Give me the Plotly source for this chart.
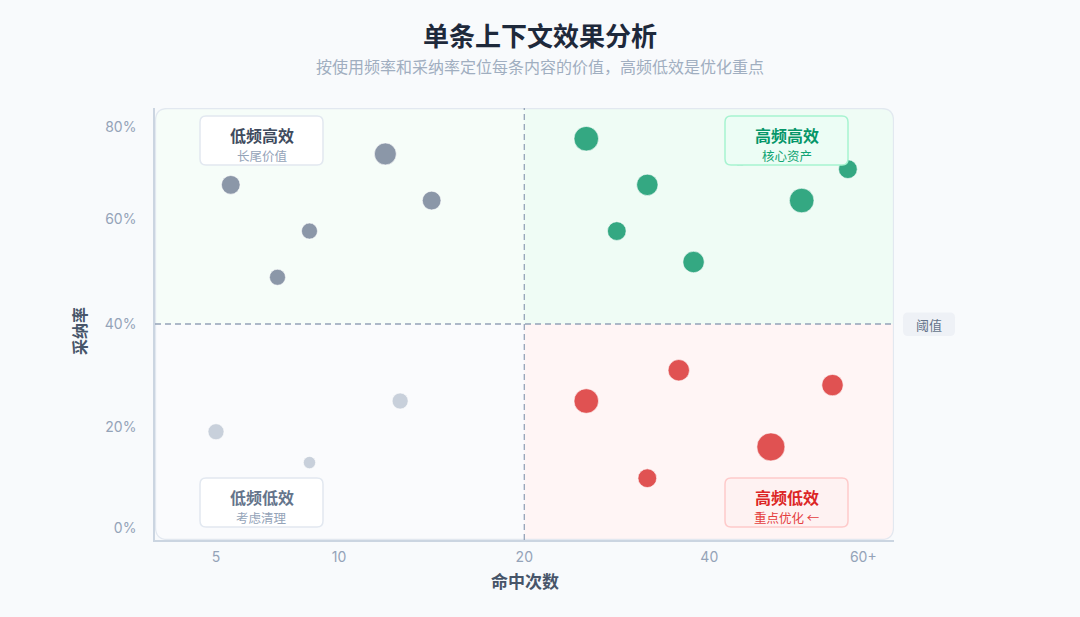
import numpy as np
import plotly.graph_objects as go

# ---------------- data ----------------
hit_ticks = [5, 10, 20, 40, 60]
hit_tick_labels = ["5", "10", "20", "40", "60+"]
rate_ticks = [0, 20, 40, 60, 80]
rate_tick_labels = ["0%", "20%", "40%", "60%", "80%"]

threshold_hits = 20
threshold_rate = 40

# 低频高效 (gray)
hits_gray = [5.6, 12.5, 15.0, 8.8, 7.5]
rate_gray = [67.4, 74.1, 64.0, 57.7, 48.9]
weight_gray = [7, 8.2, 7, 6, 6]

# 高频高效 (green)
hits_green = [26.7, 33.3, 30.0, 38.3, 52.0, 58.0, 44.0]
rate_green = [77.4, 67.4, 57.7, 51.8, 64.0, 70.8, 73.9]
weight_green = [9.2, 8, 7, 8, 9.2, 7, 8]

# 高频低效 (red)
hits_red = [26.7, 36.7, 56.0, 48.0, 33.3]
rate_red = [25.0, 31.0, 28.1, 16.0, 9.8]
weight_red = [9.2, 8, 8, 10.5, 7]

# 低频低效 (light gray)
hits_light = [5.0, 8.8, 13.3]
rate_light = [19.0, 12.9, 25.0]
weight_light = [6, 4.6, 6]

# ---------------- scales (piecewise axis scales) ----------------
PLOT_W, PLOT_H = 739, 432
X_POS = [61, 184, 369.3, 554.3, 708.3]
Y_POS = [12.3, 113.3, 216, 321, 413.3]


def sx(v):
    return np.interp(v, hit_ticks, X_POS)


def sy(v):
    return np.interp(v, rate_ticks, Y_POS)


SIZE_SCALE = 2.67

FONT = "Inter, Noto Sans CJK SC, sans-serif"
CJK = "Noto Sans CJK SC, sans-serif"

fig = go.Figure()

series = [
    (hits_light, rate_light, weight_light, "#c8d0db", "低频低效"),
    (hits_gray, rate_gray, weight_gray, "#8b97a8", "低频高效"),
    (hits_red, rate_red, weight_red, "#e05252", "高频低效"),
    (hits_green, rate_green, weight_green, "#34a882", "高频高效"),
]
for hx, ry, w, col, name in series:
    fig.add_trace(go.Scatter(
        x=sx(hx), y=sy(ry), mode="markers", name=name,
        marker=dict(size=np.array(w) * SIZE_SCALE, color=col, opacity=1,
                    line=dict(width=1, color="rgba(255,255,255,0.6)")),
        hoverinfo="skip", showlegend=False,
    ))


def rrect(x0, y0, x1, y1, rx, ry=None, corners=(1, 1, 1, 1)):
    """corners: bl, br, tr, tl"""
    if ry is None:
        ry = rx
    bl, br, tr, tl = corners
    p = f"M {x0 + rx*bl},{y0} L {x1 - rx*br},{y0} "
    p += f"Q {x1},{y0} {x1},{y0 + ry*br} L {x1},{y1 - ry*tr} "
    p += f"Q {x1},{y1} {x1 - rx*tr},{y1} L {x0 + rx*tl},{y1} "
    p += f"Q {x0},{y1} {x0},{y1 - ry*tl} L {x0},{y0 + ry*bl} "
    p += f"Q {x0},{y0} {x0 + rx*bl},{y0} Z"
    return p


xt = float(sx(threshold_hits))
yt = float(sy(threshold_rate))
R = 12
shapes = []
quads = [
    (0, yt, xt, PLOT_H, (0, 0, 0, 1), "#f6fdf9"),
    (xt, yt, PLOT_W, PLOT_H, (0, 0, 1, 0), "#effcf5"),
    (0, 0, xt, yt, (1, 0, 0, 0), "#fafbfd"),
    (xt, 0, PLOT_W, yt, (0, 1, 0, 0), "#fff5f5"),
]
for x0, y0, x1, y1, c, fc in quads:
    shapes.append(dict(type="path", xref="x", yref="y", layer="below",
                       path=rrect(x0, y0, x1, y1, R, corners=c),
                       fillcolor=fc, line=dict(width=0)))
shapes.append(dict(type="path", xref="x", yref="y", layer="below",
                   path=rrect(0.5, 0.5, PLOT_W - 0.5, PLOT_H - 0.5, R),
                   fillcolor="rgba(0,0,0,0)", line=dict(width=1.3, color="#e2e8f0")))
# threshold lines
shapes.append(dict(type="line", xref="x", yref="y", x0=xt, x1=xt, y0=0, y1=PLOT_H,
                   line=dict(color="#94a3b8", width=1.3, dash="6px,4px"), layer="below"))
shapes.append(dict(type="line", xref="x", yref="y", x0=0, x1=PLOT_W, y0=yt, y1=yt,
                   line=dict(color="#94a3b8", width=1.3, dash="6px,4px"), layer="below"))

annotations = []
# quadrant label boxes
boxes = [
    (45, 168, 375, 424, "#ffffff", "#e2e8f0", "低频高效", "#3f4b5e", "长尾价值", "#94a3b8"),
    (570, 693, 375, 424, "#ecfdf5", "#a7f3d0", "高频高效", "#059669", "核心资产", "#10a473"),
    (45, 168, 13, 62, "#ffffff", "#e2e8f0", "低频低效", "#64748b", "考虑清理", "#94a3b8"),
    (570, 693, 13, 62, "#fef2f2", "#fecaca", "高频低效", "#dc2626", "重点优化 ←", "#e53e3e"),
]
for x0, x1, y0, y1, fc, bc, t1, c1, t2, c2 in boxes:
    shapes.append(dict(type="path", xref="x", yref="y", layer="above",
                       path=rrect(x0, y0, x1, y1, 6), fillcolor=fc,
                       line=dict(width=1.5, color=bc)))
    cx = (x0 + x1) / 2
    annotations.append(dict(xref="x", yref="y", x=cx, y=y1 - 18.8, text=t1, showarrow=False,
                            xanchor="center", yanchor="middle",
                            font=dict(family=CJK, size=16, color=c1, weight="bold")))
    annotations.append(dict(xref="x", yref="y", x=cx, y=y1 - 39.3, text=t2, showarrow=False,
                            xanchor="center", yanchor="middle",
                            font=dict(family=CJK, size=12.5, color=c2)))

# threshold tag
px = 1 / PLOT_W
shapes.append(dict(type="path", xref="paper", yref="y", layer="above",
                   path=rrect(748 * px, yt - 12, 800 * px, yt + 11.5, 5 * px, 5),
                   fillcolor="#eef1f6", line=dict(width=0)))
annotations.append(dict(xref="paper", yref="y", x=774 * px, y=yt - 0.5, text="阈值",
                        showarrow=False, xanchor="center", yanchor="middle",
                        font=dict(family=CJK, size=13, color="#64748b")))

# titles
annotations.append(dict(xref="paper", yref="paper", x=(540 - 155) * px, y=(540 - 34) / PLOT_H,
                        text="单条上下文效果分析", showarrow=False, xanchor="center", yanchor="middle",
                        font=dict(family=CJK, size=26, color="#1e293b", weight="bold")))
annotations.append(dict(xref="paper", yref="paper", x=(540 - 155) * px, y=(540 - 65.5) / PLOT_H,
                        text="按使用频率和采纳率定位每条内容的价值，高频低效是优化重点", showarrow=False,
                        xanchor="center", yanchor="middle",
                        font=dict(family=CJK, size=16, color="#a0aec0")))
annotations.append(dict(xref="paper", yref="paper", x=(524.5 - 155) * px, y=(540 - 580) / PLOT_H,
                        text="命中次数", showarrow=False, xanchor="center", yanchor="middle",
                        font=dict(family=CJK, size=17, color="#475569", weight="bold")))
annotations.append(dict(xref="paper", yref="paper", x=(79 - 155) * px, y=(540 - 331) / PLOT_H,
                        text="采纳率", showarrow=False, textangle=-90, xanchor="center",
                        yanchor="middle",
                        font=dict(family=CJK, size=16, color="#475569", weight="bold")))

fig.update_layout(
    width=1080, height=617,
    margin=dict(l=155, r=186, t=108, b=77),
    paper_bgcolor="#f8fafc", plot_bgcolor="#f8fafc",
    shapes=shapes, annotations=annotations,
    font=dict(family=FONT),
    xaxis=dict(range=[0, PLOT_W], tickvals=sx(hit_ticks), ticktext=hit_tick_labels,
               showgrid=False, zeroline=False, showline=True, linecolor="#cbd5e1", linewidth=1.5,
               ticks="", ticklabelstandoff=3,
               tickfont=dict(family=FONT, size=14, color="#94a3b8"), fixedrange=True),
    yaxis=dict(range=[0, PLOT_H], tickvals=sy(rate_ticks), ticktext=rate_tick_labels,
               showgrid=False, zeroline=False, showline=True, linecolor="#cbd5e1", linewidth=1.5,
               ticks="", ticklabelstandoff=14,
               tickfont=dict(family=FONT, size=14, color="#94a3b8"), fixedrange=True),
)

fig.write_html("out.html", config={"displayModeBar": False},
               post_script="document.body.style.margin='0';")
